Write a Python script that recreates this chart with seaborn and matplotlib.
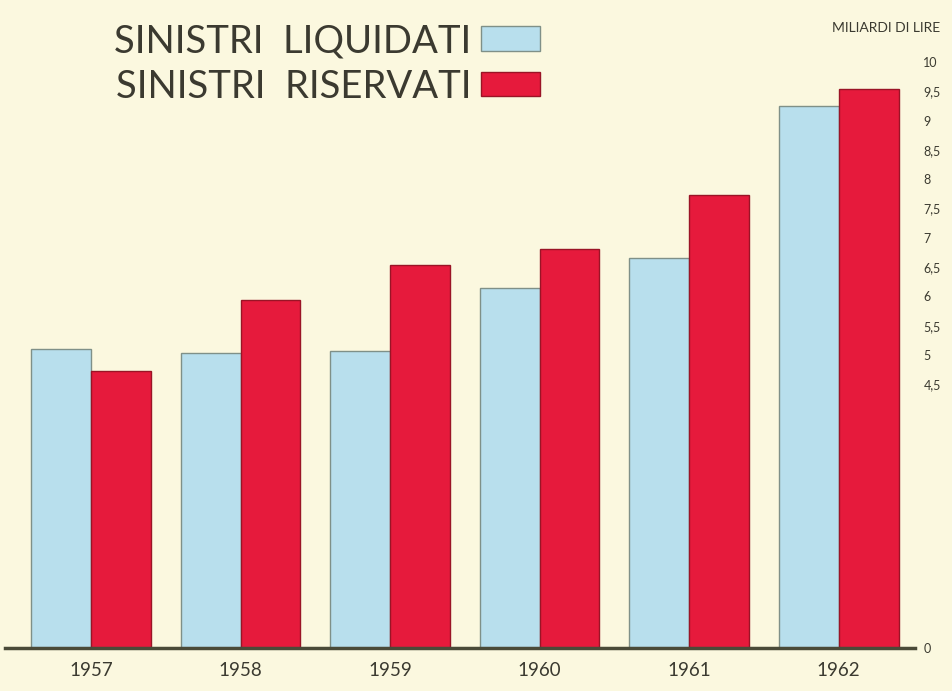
import pandas as pd
import matplotlib.pyplot as plt
import seaborn as sns

anni = ["1957", "1958", "1959", "1960", "1961", "1962"]
liquidati = [5.10, 5.03, 5.07, 6.14, 6.66, 9.25]
riservati = [4.73, 5.94, 6.54, 6.81, 7.73, 9.54]
serie = ["SINISTRI  LIQUIDATI", "SINISTRI  RISERVATI"]
yticks = [0, 4.5, 5, 5.5, 6, 6.5, 7, 7.5, 8, 8.5, 9, 9.5, 10]

df = pd.DataFrame({
    "anno": anni * 2,
    "valore": liquidati + riservati,
    "tipo": [serie[0]] * len(anni) + [serie[1]] * len(anni),
})

bg = "#fbf8df"
blu = "#b8dfed"
rosso = "#e61a3c"
testo = "#3b3a30"

sns.set_style("white")
plt.rcParams["font.family"] = ["Lato", "DejaVu Sans"]

fig = plt.figure(figsize=(9.52, 6.91), dpi=100, facecolor=bg)
ax = fig.add_axes([5 / 952, 0.0622, 910 / 952, 0.8905], facecolor=bg)

sns.barplot(data=df, x="anno", y="valore", hue="tipo", palette=[blu, rosso],
            saturation=1, width=0.8, linewidth=1, ax=ax)

for cont, ec in zip(ax.containers, ["#7f9088", "#9a1426"]):
    for p in cont:
        p.set_edgecolor(ec)

ax.set_xlim(-0.575, 5.51)
ax.set_ylim(0, 10.5)
ax.set_xlabel("")
ax.set_ylabel("")

for s in ["top", "left", "right"]:
    ax.spines[s].set_visible(False)
ax.spines["bottom"].set_color("#4a4a38")
ax.spines["bottom"].set_linewidth(2.5)

ax.yaxis.tick_right()
ax.set_yticks(yticks)
ax.set_yticklabels([f"{v:g}".replace(".", ",") for v in yticks])
ax.tick_params(axis="y", length=0, pad=6, labelsize=9, labelcolor=testo)
ax.tick_params(axis="x", length=0, pad=10, labelsize=13.5, labelcolor=testo)

handles = [cont.patches[0] for cont in ax.containers]
ax.legend(handles, serie, markerfirst=False, frameon=False, fontsize=27.5,
          labelcolor=testo, loc="upper left", bbox_to_anchor=(114 / 952, 1 - 23 / 691),
          bbox_transform=fig.transFigure, handlelength=1.55, handleheight=0.62,
          handletextpad=0.25, labelspacing=0.25, borderaxespad=0, borderpad=0)

fig.text(940 / 952, 1 - 28 / 691, "MILIARDI DI LIRE", ha="right", va="center",
         fontsize=10, color=testo)

fig.savefig("out.png", dpi=100, facecolor=bg)
